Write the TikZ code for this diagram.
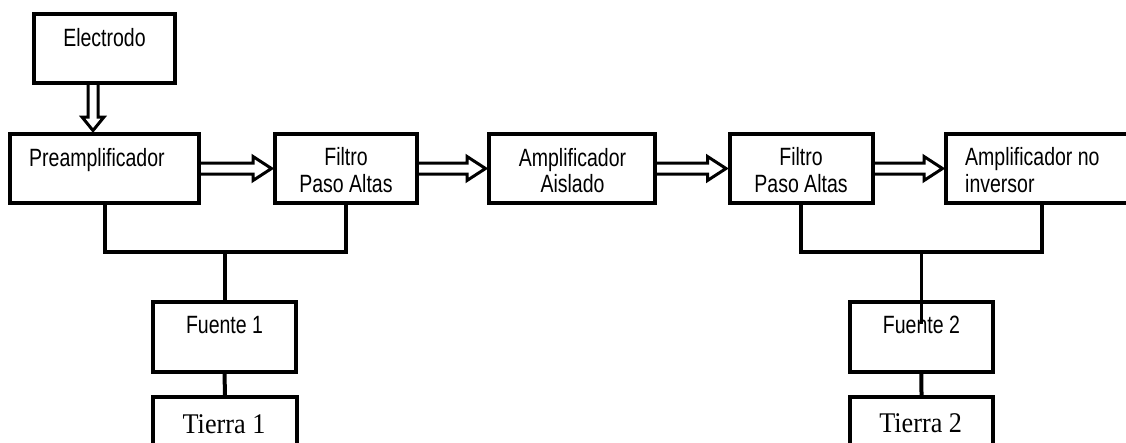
\documentclass[tikz,border=0pt]{standalone}
\usepackage{fontspec}
\setmainfont{Liberation Sans}[FakeStretch=0.78]
\newfontfamily\timesf{Liberation Serif}[FakeStretch=0.92]
\usetikzlibrary{calc}
\tikzset{
  box/.style={draw=black, line width=4pt, rectangle, inner sep=0pt, fill=white},
  lbl/.style={inner sep=0pt, font=\fontsize{25}{26.6}\selectfont},
  tlbl/.style={inner sep=0pt, font=\timesf\fontsize{28.5}{30}\selectfont},
  dbl/.style={draw=black, line width=3pt, line join=miter},
  bus/.style={draw=black, line width=4pt}
}
\newcommand\harrow[2]{%
  \draw[dbl] ([yshift=5.5pt]#1.east) -- ([xshift=-20pt,yshift=5.5pt]#2.west)
    -- ([xshift=-20pt,yshift=12pt]#2.west) -- ([xshift=-1.5pt]#2.west)
    -- ([xshift=-20pt,yshift=-12pt]#2.west) -- ([xshift=-20pt,yshift=-5.5pt]#2.west)
    -- ([yshift=-5.5pt]#1.east);}
\begin{document}
\begin{tikzpicture}[x=1pt,y=-1pt]
\useasboundingbox (0,0) rectangle (1126,442);
\clip (0,0) rectangle (1126,442);
% boxes
\node[box, minimum width=141pt, minimum height=69pt] (el) at (104.5,48.5) {};
\node[box, minimum width=189pt, minimum height=69pt] (pre) at (104.5,168.5) {};
\node[box, minimum width=142pt, minimum height=69pt] (f1) at (346,168.5) {};
\node[box, minimum width=166pt, minimum height=69pt] (aa) at (572,168.5) {};
\node[box, minimum width=143pt, minimum height=69pt] (f2) at (801,168.5) {};
\node[box, minimum width=192pt, minimum height=69pt] (ani) at (1042,168.5) {};
\node[box, minimum width=143pt, minimum height=70.5pt] (fu1) at (224.5,336.75) {};
\node[box, minimum width=143pt, minimum height=70.5pt] (fu2) at (921.4,336.75) {};
\node[box, minimum width=144pt, minimum height=70pt] (ti1) at (225,432) {};
\node[box, minimum width=143pt, minimum height=70pt] (ti2) at (921.5,432) {};
% texts
\node[lbl, anchor=base] (el-t) at (104.5,46) {Electrodo};
\node[lbl, anchor=base west] (pre-t) at (29,166.5) {Preamplificador};
\node[lbl, anchor=base] (f1-t1) at (346,165.7) {Filtro};
\node[lbl, anchor=base] (f1-t2) at (346,192.3) {Paso Altas};
\node[lbl, anchor=base] (aa-t1) at (572.5,166) {Amplificador};
\node[lbl, anchor=base] (aa-t2) at (572.5,192.7) {Aislado};
\node[lbl, anchor=base] (f2-t1) at (801,165.7) {Filtro};
\node[lbl, anchor=base] (f2-t2) at (801,192.3) {Paso Altas};
\node[lbl, anchor=base west] (ani-t1) at (965,165.7) {Amplificador no};
\node[lbl, anchor=base west] (ani-t2) at (965,192.3) {inversor};
\node[lbl, anchor=base] (fu1-t) at (224.5,333) {Fuente 1};
\node[lbl, anchor=base] (fu2-t) at (921.4,333) {Fuente 2};
\node[tlbl, anchor=base] (ti1-t) at (224,433) {Tierra 1};
\node[tlbl, anchor=base] (ti2-t) at (920.7,432) {Tierra 2};
% vertical block arrow electrode -> preamp
\draw[dbl] ([xshift=-16.5pt]el.south) -- ([xshift=-16.5pt,yshift=15pt]pre.north)
  -- ([xshift=-22.5pt,yshift=15pt]pre.north) -- ([xshift=-11.5pt,yshift=1.5pt]pre.north)
  -- ([xshift=-0.5pt,yshift=15pt]pre.north) -- ([xshift=-6.5pt,yshift=15pt]pre.north)
  -- ([xshift=-6.5pt]el.south);
% horizontal block arrows
\harrow{pre}{f1}
\harrow{f1}{aa}
\harrow{aa}{f2}
\harrow{f2}{ani}
% power buses
\coordinate (b1) at (224.5,252);
\coordinate (b2) at (921.4,252);
\draw[bus] (pre.south) |- (b1) -| (f1.south);
\draw[bus] (b1) -- (fu1.north);
\draw[bus] (fu1.south) -- (ti1.north);
\draw[bus] (f2.south) |- (b2) -| (ani.south);
\draw[bus, line width=3.5pt] (b2) -- ([yshift=-24pt]fu2.north);
\draw[bus] (fu2.south) -- (ti2.north);
\end{tikzpicture}
\end{document}
